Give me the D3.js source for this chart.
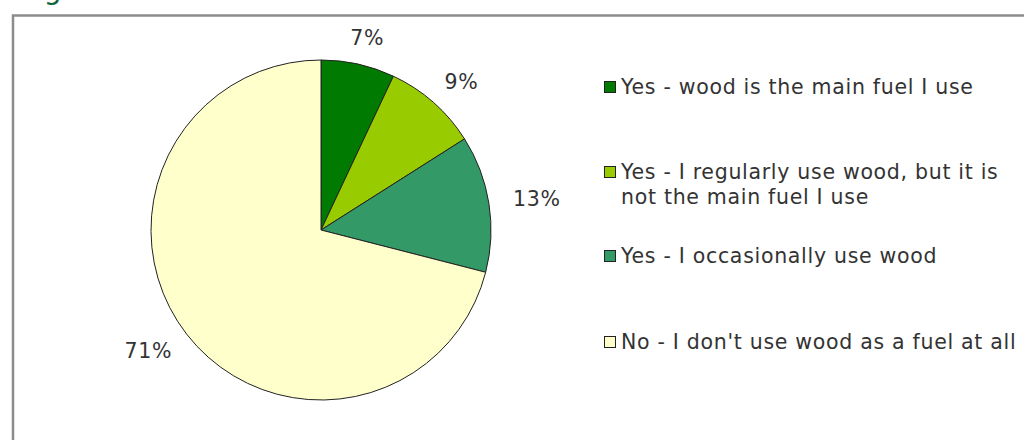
<!DOCTYPE html>
<html>
<head>
<meta charset="utf-8">
<script src="https://cdn.jsdelivr.net/npm/d3@7"></script>
<style>
  body { margin: 0; background: #fff; }
  svg { display: block; font-family: "DejaVu Sans", Verdana, sans-serif; }
</style>
</head>
<body>
<svg width="1024" height="440"></svg>
<script>
// data
var categories = [
  "Yes - wood is the main fuel I use",
  "Yes - I regularly use wood, but it is not the main fuel I use",
  "Yes - I occasionally use wood",
  "No - I don't use wood as a fuel at all"
];
var legendLines = [
  ["Yes - wood is the main fuel I use"],
  ["Yes - I regularly use wood, but it is", "not the main fuel I use"],
  ["Yes - I occasionally use wood"],
  ["No - I don't use wood as a fuel at all"]
];
var values = [7, 9, 13, 71];
var colors = ["#007a00", "#99cc00", "#339966", "#ffffcc"];

var svg = d3.select("svg");

// title cut off at the top, only the descender shows
svg.append("text")
  .attr("x", 22)
  .attr("y", -1)
  .attr("font-size", 28)
  .attr("fill", "#11643a")
  .text("Figure");

// chart frame
svg.append("rect")
  .attr("x", 13)
  .attr("y", 15.5)
  .attr("width", 1040)
  .attr("height", 460)
  .attr("fill", "none")
  .attr("stroke", "#8c8c8c")
  .attr("stroke-width", 2.5);

var cx = 321, cy = 230, r = 170;

var pie = d3.pie().sort(null).value(function(d) { return d; });
var arcs = pie(values);
var arc = d3.arc().innerRadius(0).outerRadius(r);

var g = svg.append("g").attr("transform", "translate(" + cx + "," + cy + ")");

g.selectAll("path.slice")
  .data(arcs)
  .enter()
  .append("path")
  .attr("class", "slice")
  .attr("d", arc)
  .attr("fill", function(d, i) { return colors[i]; })
  .attr("stroke", "#222")
  .attr("stroke-width", 1);

// labels just outside the pie
var labelR = r + 27;
g.selectAll("text.lbl")
  .data(arcs)
  .enter()
  .append("text")
  .attr("class", "lbl")
  .attr("font-size", 20.5)
  .attr("letter-spacing", 0.7)
  .attr("fill", "#333")
  .attr("text-anchor", "middle")
  .attr("dy", "0.35em")
  .text(function(d) { return d.value + "%"; })
  .each(function(d) {
    var a = (d.startAngle + d.endAngle) / 2;
    var w = this.getComputedTextLength();
    var x = labelR * Math.sin(a) + Math.sin(a) * w * 0.45;
    var y = -labelR * Math.cos(a);
    d3.select(this).attr("x", x).attr("y", y);
  });

// legend
var legendY = [87, 172, 256, 342];
var legend = svg.append("g");
var items = legend.selectAll("g.item")
  .data(categories)
  .enter()
  .append("g")
  .attr("class", "item")
  .attr("transform", function(d, i) { return "translate(604," + legendY[i] + ")"; });

items.append("rect")
  .attr("x", 0.5)
  .attr("y", -5.5)
  .attr("width", 11)
  .attr("height", 11)
  .attr("fill", function(d, i) { return colors[i]; })
  .attr("stroke", "#222")
  .attr("stroke-width", 1);

items.each(function(d, i) {
  var t = d3.select(this).append("text")
    .attr("x", 17)
    .attr("y", 0)
    .attr("font-size", 20.5)
    .attr("letter-spacing", 0.7)
    .attr("fill", "#333");
  legendLines[i].forEach(function(line, j) {
    t.append("tspan")
      .attr("x", 17)
      .attr("y", j * 25)
      .attr("dy", "0.35em")
      .text(line);
  });
});
</script>
</body>
</html>
